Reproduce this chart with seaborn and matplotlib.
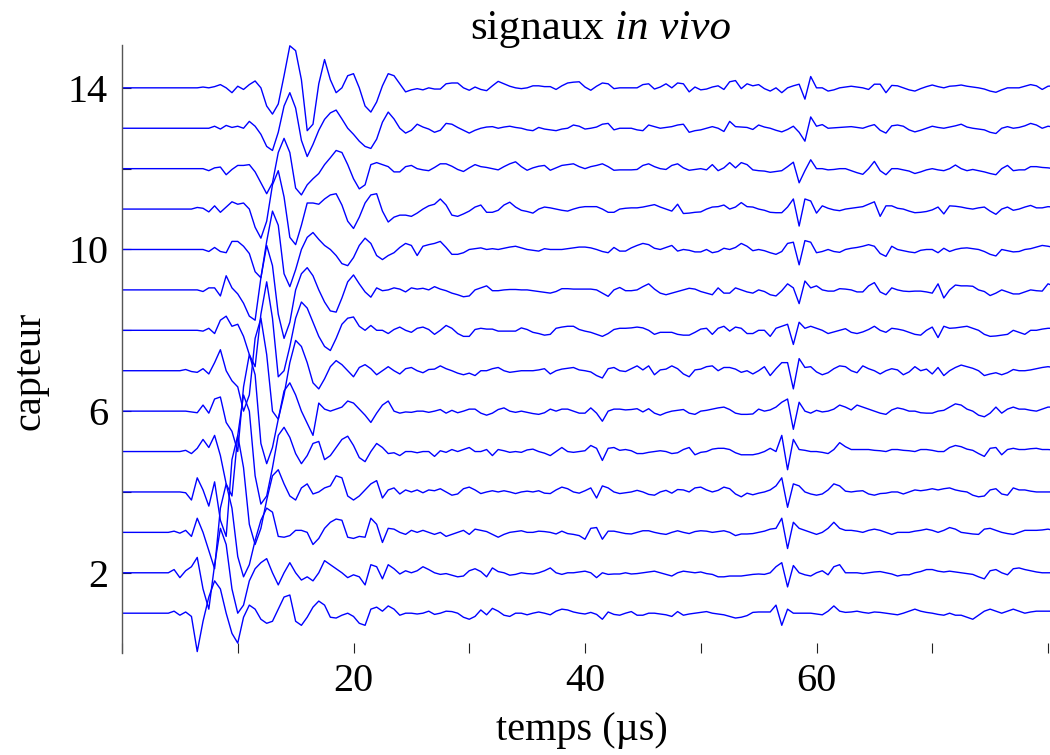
import numpy as np
import pandas as pd
import seaborn as sns
import matplotlib
matplotlib.use('Agg')
import matplotlib.pyplot as plt

# pas d'echantillonnage des signaux (µs)
dt = 0.5

# amplitudes, en centiemes de l'ecart entre capteurs
# un echantillon toutes les 0.5 µs, de 0 a 80.5 µs (10 valeurs par ligne = 5 µs)
capteur_01 = [
    0, 0, 0, 0, 0, 0, 0, 0, 0, 5,
    -5, 3, -8, -95, -20, 40, 80, 60, 0, -50,
    -74, -10, 20, 10, -15, -25, -20, 10, 40, 45,
    -20, -30, -10, 15, 30, 20, -10, -12, -5, 0,
    -8, -25, -30, 10, 15, 5, 18, 10, -5, 0,
    0, -2, 0, 5, -3, 0, 5, 4, 0, -10,
    -15, -8, 8, -4, 12, 5, -5, -8, 0, 0,
    -4, 0, 3, 0, -4, 5, 10, 8, 3, 0,
    -2, 2, -3, -15, 3, -3, -5, 0, 4, -5,
    -5, 0, 0, -2, -4, -8, 4, -5, -2, 0,
    2, 4, 0, -2, -4, -8, -12, -10, -6, 2,
    3, 3, 3, 20, -30, 10, 0, 0, 0, 0,
    -2, -4, 5, 18, 5, 2, 3, 5, 2, 0,
    3, 2, 0, -2, -4, 0, 5, 10, 5, 2,
    0, -3, -5, 0, -5, -5, -10, -15, -5, 5,
    10, 5, 0, 5, 10, 5, 0, 3, 5, 5,
    5, 5]
capteur_02 = [
    0, 0, 0, 0, 0, 0, 0, 0, 0, 8,
    -12, 5, 15, 38, -40, -90, 20, 110, 70, -40,
    -100, -80, -20, 10, 25, 35, 0, -30, 0, 25,
    0, -18, -10, -20, 0, 30, 20, 10, 0, -12,
    -5, -10, -30, 20, 15, -15, 20, 10, -3, 5,
    0, 5, 15, 8, 0, -4, -2, -6, -10, -8,
    5, 10, 3, -10, 12, 3, 0, -6, -4, 0,
    -2, -3, 0, 5, 12, 0, -4, 0, 0, 2,
    4, 0, -12, 0, -4, -3, -3, 0, -3, -2,
    0, 2, 4, 0, -4, -8, 0, 4, 2, 0,
    2, -2, -4, -10, -10, -8, -8, -8, -6, -4,
    -3, -4, 0, 15, 25, -35, 18, 0, -5, -8,
    0, 5, -5, 15, 20, 0, 0, 0, -2, 0,
    2, 3, 0, -3, -8, -5, -5, 0, 3, 8,
    8, 4, 2, 4, 2, 0, -2, -4, -10, -15,
    5, 8, 0, -5, 10, 12, 8, 5, 2, 0,
    0, 0]
capteur_03 = [
    0, 0, 0, 0, 0, 0, 0, 0, 0, 3,
    -2, 5, -10, 35, 0, -45, -90, 60, 120, 60,
    -60, -110, -80, -20, 30, 60, 50, -10, -12, -8,
    5, 5, 0, -30, -15, 10, 25, 33, 30, -12,
    -15, -10, -12, 35, 20, -25, 10, 8, 0, -5,
    5, 0, 5, 0, -5, 0, -10, -5, 0, 5,
    -5, 8, 5, 2, -5, -12, -5, 0, 2, 4,
    0, 0, 3, 2, 0, -4, 3, -3, -5, -8,
    -17, 10, 12, -17, 3, 3, 0, -3, -4, 0,
    4, 4, 0, -3, -5, 0, 4, 0, -3, 2,
    4, 3, 0, 2, 4, 0, -8, -4, -4, -3,
    0, 3, 8, 10, 35, -40, 25, 10, 5, 0,
    -5, 0, 10, 25, 10, 5, 5, 3, 0, 5,
    8, 5, 0, -5, 0, 0, 0, 3, 5, 8,
    5, 0, 5, 12, 8, 0, -2, -4, -5, 8,
    10, 5, 0, -3, -5, 0, 5, 5, 5, 6,
    8, 5]
capteur_04 = [
    0, 0, 0, 0, 0, 0, 0, 0, 0, 0,
    0, -2, -20, 35, 5, -35, 25, -70, -110, 80,
    140, 60, -80, -130, -90, -20, 40, 55, 20, -10,
    -20, 10, 20, -5, 0, 10, 15, 40, 35, -10,
    -20, -10, 5, 20, 28, -15, 5, 10, -5, 5,
    0, 5, -2, 5, 3, 8, 0, -8, -5, 8,
    12, 5, -4, 0, 3, 0, 3, 0, -4, 0,
    2, 0, 3, -3, -4, 5, 12, 8, 0, -3,
    3, 10, -15, 15, 10, 0, -4, -2, 0, 4,
    0, -6, -8, 0, 4, -3, 6, 5, 0, 10,
    12, 5, 0, 4, 12, 8, -5, -12, -3, -7,
    -3, 0, 5, 15, 35, -38, 20, 15, 0, -5,
    -8, -5, 5, 20, 15, 2, 0, 2, 3, -5,
    -8, -4, -3, 0, 0, -5, 0, 5, 3, 5,
    8, 5, 8, 10, 5, 2, 0, -8, -12, -10,
    5, 8, -5, -8, 10, 5, 5, 2, 0, 0,
    0, 0]
capteur_05 = [
    0, 0, 0, 0, 0, 0, 0, 0, 0, 0,
    0, 3, -5, 8, 30, 10, 40, -10, -80, -110,
    40, 140, 100, -60, -130, -110, -40, 40, 60, 35,
    -5, -30, -10, 20, 25, -20, -10, 10, 30, 38,
    15, -15, -25, 0, 20, 10, -5, -3, -10, 0,
    0, -3, 0, 0, -12, 2, -2, 5, 0, 5,
    10, 0, 0, 5, -10, 5, 2, -2, 0, -2,
    4, 6, 0, -4, -10, 0, 10, 0, -2, 0,
    2, 15, 8, -22, 8, 10, 3, 5, 2, -5,
    -5, -2, 0, 2, 0, -5, -3, 5, 10, -8,
    -2, 0, 6, 8, 8, 5, -3, -8, -8, -8,
    -5, 0, 8, 0, 40, -45, 30, 5, 3, 0,
    0, -2, -5, 5, 22, 12, 5, 5, 5, 5,
    3, 2, 0, 5, 5, 3, 2, 0, 5, 5,
    3, 0, 0, 10, 15, 12, 6, 3, -5, -12,
    8, 10, -8, 5, 8, 5, 5, 7, 8, 5,
    5, 4]
capteur_06 = [
    0, 0, 0, 0, 0, 0, 0, 0, 0, 0,
    0, 0, -2, -4, 15, -5, 30, 35, -28, -50,
    -100, 60, 140, 90, -80, -130, -90, -20, 50, 70,
    40, 0, -30, -60, 20, 5, 0, 5, 10, 25,
    20, 5, -10, -28, -5, 15, 25, 0, -5, -2,
    -3, 0, 0, -3, 0, 4, -5, 2, -4, 0,
    5, 5, -5, -10, -5, 4, 8, 0, -3, 0,
    -3, -6, -8, -4, 5, 0, 5, 5, 0, -5,
    -5, 8, -5, -25, 0, 5, 5, 3, 4, 6,
    -2, 6, -5, -10, -4, 0, 2, 4, -5, -8,
    0, 2, 5, 8, 10, 4, -5, -8, -8, -7,
    5, 0, 3, 10, 22, 30, -45, 22, 0, -5,
    2, -2, 0, 5, 15, 10, 3, 15, 10, 5,
    0, -5, -8, 3, 8, 5, 0, 0, -4, -5,
    -5, 0, 2, 10, 18, 15, 5, 0, -10, -14,
    -5, 10, -5, 5, 10, 5, 5, 2, 0, 5,
    10, 10]
capteur_07 = [
    0, 0, 0, 0, 0, 0, 0, 0, 0, 0,
    0, 3, -2, -4, 5, -8, 20, 52, 0, -25,
    -40, -100, -60, 80, 130, 40, -100, -120, -60, 20,
    75, 60, 20, -30, -45, -20, 10, 25, 15, 0,
    -15, 8, 15, 5, -10, 0, 10, 0, -8, 5,
    8, 0, -5, 3, 4, 12, 5, 0, -6, -10,
    -6, -12, 0, 0, 5, 8, 0, -4, -2, 0,
    0, 0, 2, 5, -8, 0, 4, 6, 8, 2,
    0, -3, -12, -18, 5, 8, 0, -2, 5, 12,
    2, 12, -10, 2, 4, 12, 5, -8, -15, 2,
    4, 10, 12, 0, 8, 8, 4, -4, 0, -8,
    0, 10, -12, 5, 20, 20, -45, 30, 8, 10,
    -3, -10, -5, 5, 12, 10, 0, -5, 12, 5,
    0, -8, 0, 5, 2, -10, -3, 10, 0, 4,
    -8, 8, -12, 0, 8, 14, 10, 6, 0, -12,
    -8, -5, -10, -5, 3, 0, 0, 2, 5, 8,
    10, 8]
capteur_08 = [
    0, 0, 0, 0, 0, 0, 0, 0, 0, 0,
    0, 0, 0, 0, -2, 5, -8, 25, 35, 10,
    15, -15, -60, -90, 40, 120, 30, -115, -100, -40,
    30, 70, 55, 20, -15, -40, -50, -20, 15, 30,
    33, 10, 0, 12, 0, 0, -8, 2, 8, 0,
    -5, 5, 8, 2, -10, 0, 12, 5, -8, -15,
    -15, 2, 5, 3, 3, -2, -2, -2, -2, 6,
    2, -5, -8, -12, -10, 5, 8, 10, 10, 2,
    -2, -5, -10, -15, -8, 2, 5, 5, 6, 8,
    6, 0, -10, -5, -5, -5, -10, -12, -12, -5,
    3, 5, -10, 5, 10, -2, 8, 5, -8, -8,
    0, 0, -15, 5, 10, 15, -35, 20, 5, 10,
    5, 0, -8, -4, 0, 4, -5, -8, -4, 2,
    10, 0, -5, 5, 3, 0, -5, -10, -12, 0,
    8, -18, 10, 5, 6, 8, 10, 5, 0, -10,
    -15, -14, -12, -10, 0, -5, -10, 0, 0, 3,
    5, 5]
capteur_09 = [
    0, 0, 0, 0, 0, 0, 0, 0, 0, 0,
    0, 0, 0, 0, -4, 5, 5, -15, 35, 5,
    -10, -33, -65, -75, 30, 110, 60, -60, -120, -80,
    0, 40, 55, 35, 0, -30, -52, -55, -20, 20,
    37, 15, -5, -18, 5, -2, 0, 5, 2, -5,
    5, 2, 4, 0, 8, 2, -2, -8, -12, -17,
    -15, 0, 5, 10, -2, -2, 0, 1, 1, 0,
    0, -2, -4, -6, -8, -4, 3, 3, 2, 2,
    2, 2, 0, -8, -16, 0, 6, -2, -2, 0,
    8, 15, 2, -8, -12, -8, -4, 0, 4, 2,
    -4, -8, -12, 5, -8, -8, 5, 0, -5, -8,
    0, -4, -12, -15, -2, 15, 5, -34, 22, 5,
    10, 0, -3, -3, 3, 2, 0, -5, -5, 10,
    18, -5, -12, 5, 0, -3, -4, -3, -3, -5,
    -8, 15, -20, 0, 12, 10, 10, 9, 0, -4,
    -14, -8, 0, -5, -10, -10, -5, 0, -2, -3,
    15, 10]
capteur_10 = [
    0, 0, 0, 0, 0, 0, 0, 0, 0, 0,
    0, 0, 0, 0, 0, -5, 5, -5, -8, 20,
    20, 8, -10, -55, -70, 20, 95, 60, -60, -92,
    -50, 0, 30, 42, 25, 10, 0, -15, -35, -40,
    -20, 10, 28, 15, -15, -25, -15, -8, 5, 15,
    10, -15, 8, 12, 15, 20, 5, -12, -12, -8,
    0, 2, 4, 0, 2, 0, 3, 6, 8, 4,
    0, -2, -4, 2, 0, 0, 0, 2, 4, 6,
    6, 4, 0, -5, -8, 5, -4, -4, 4, 10,
    15, 12, 3, 0, 5, 10, -4, 0, -2, -6,
    -6, 0, -8, -5, 3, 0, 5, 15, 8, -3,
    0, -3, -8, -12, -5, 15, 18, -38, 22, 18,
    -8, -5, 0, -5, -7, 0, 3, 5, 8, 12,
    8, -10, -17, 8, 0, -3, -6, -8, -2, 0,
    0, -8, 3, -5, 0, 3, 4, 2, 0, -5,
    -12, -16, 0, -3, -6, -5, 0, 2, 6, 10,
    8, 5]
capteur_11 = [
    0, 0, 0, 0, 0, 0, 0, 0, 0, 0,
    0, 0, 0, 4, 2, -7, 8, -8, 5, 18,
    12, 15, 0, -45, -72, -30, 60, 95, 30, -70,
    -88, -40, 15, 15, 12, 25, 35, 38, 10, -30,
    -48, -20, 15, 35, 38, -5, -32, -20, -15, -15,
    -18, -10, 0, 8, 12, 25, 10, -15, -18, -12,
    -5, 5, 10, -8, -8, -3, 10, 17, 5, -3,
    -6, -10, 0, 5, 3, 0, -3, -5, 0, 4,
    6, 6, 6, 0, -8, -8, 0, 2, 3, 3,
    5, 8, 11, 5, 0, -5, 12, -11, -10, -8,
    -7, 0, 5, 6, 10, 0, 5, 16, 6, 5,
    0, -3, -8, -9, -9, 5, 25, -42, 25, 20,
    -10, 8, 2, -2, -4, 0, 2, 4, 6, 12,
    18, -18, 8, 8, 2, 0, -5, -9, -8, -6,
    -2, 5, -12, 8, 7, 5, 2, 0, 3, 5,
    -5, -13, 0, 5, -3, 0, 5, 9, 3, 3,
    6, 5]
capteur_12 = [
    0, 0, 0, 0, 0, 0, 0, 0, 0, 0,
    0, 0, 0, 0, 0, -5, 2, 4, -15, -2,
    8, 8, 10, -8, -35, -62, -35, 40, 75, 40,
    -48, -65, -40, -25, -12, 10, 27, 45, 40, 10,
    -25, -50, -40, 10, 15, 10, 5, -8, -8, 5,
    8, 0, -3, -5, 3, 12, 12, 6, -2, -7,
    2, 10, 5, 3, 0, -3, 5, 12, 17, 5,
    -4, 2, 6, 8, -4, 2, 8, 10, 12, 5,
    0, 5, 8, 12, 5, -4, -3, -3, -3, -2,
    8, 12, 5, 0, -2, 8, 12, 2, -4, -2,
    0, -3, 10, -5, 2, 15, 2, 15, 10, -3,
    -5, -6, -9, -7, -5, 5, 16, -35, -5, 22,
    0, 0, -3, -2, 0, 0, -5, -10, -14, 0,
    18, -5, -15, 0, 0, -3, -6, -12, -8, -3,
    0, -3, -5, 0, 9, 0, -5, -2, -5, -8,
    -12, -15, 0, 8, -5, -3, -3, 5, 5, 3,
    2, 0]
capteur_13 = [
    0, 0, 0, 0, 0, 0, 0, 0, 0, 0,
    0, 0, 0, 0, 0, 0, 5, -2, 7, 2,
    5, 0, 17, 5, -15, -45, -55, -10, 55, 88,
    50, -30, -70, -40, -5, 22, 38, 45, 23, 0,
    -15, -32, -45, -50, -27, 15, 40, 23, 0, -12,
    -5, 10, 3, -2, -10, -5, 12, 10, 2, -5,
    -12, -5, 0, 3, 4, 0, 3, 5, 2, 0,
    -4, -6, 2, -2, -4, -6, -2, 0, 8, 5,
    -2, 0, 3, 10, 12, -4, 0, 0, 0, -4,
    -6, 8, 4, 0, 2, 4, 8, 10, -10, -6,
    -4, 0, 4, 0, -8, 17, 4, 3, 2, -3,
    8, 3, 0, -5, -9, -3, 5, -10, -32, 28,
    5, 9, 0, 1, 2, 3, 4, 2, 0, 5,
    9, -5, -12, 6, 8, 5, -4, -9, -5, 0,
    5, 2, 0, 3, 6, 10, 3, 0, -2, -4,
    -10, -13, 0, 4, 0, 2, 6, 12, 8, 0,
    5, 3]
capteur_14 = [
    0, 0, 0, 0, 0, 0, 0, 0, 0, 0,
    0, 0, 0, 0, 2, 0, 3, 8, 0, -12,
    4, -4, 8, 17, 0, -45, -65, -40, 30, 104,
    92, 20, -106, -90, 10, 70, 20, -12, 0, 30,
    35, 0, -45, -60, -35, 5, 35, 30, 10, -10,
    -5, -2, -5, 0, -3, -3, 10, 12, 12, 0,
    -6, 2, -4, -7, 5, 16, 10, 4, 0, -2,
    0, 5, 5, 3, 3, -4, 5, 12, 14, 15,
    2, -6, 4, 12, 10, -2, 0, 0, 0, 0,
    8, 10, -3, 2, 10, 0, 12, 10, -10, 2,
    -5, -3, 2, 5, -4, 15, 18, -2, 10, 5,
    8, -2, -8, 0, -12, 0, 5, 9, -28, 28,
    0, 0, -8, -5, 0, 2, 4, 2, 0, -4,
    9, 9, -12, 6, 5, 0, -5, -8, -2, 3,
    7, 3, 0, 4, 5, 7, 4, 2, 0, -3,
    -8, -11, -5, 0, 0, 0, 4, 8, 5, -4,
    4, 5]

signaux = [capteur_01, capteur_02, capteur_03, capteur_04, capteur_05,
           capteur_06, capteur_07, capteur_08, capteur_09, capteur_10,
           capteur_11, capteur_12, capteur_13, capteur_14]

x_ticks = [0, 10, 20, 30, 40, 50, 60, 70, 80]
x_tick_labels = ['', '', '20', '', '40', '', '60', '', '']
y_ticks = [2, 4, 6, 8, 10, 12, 14]
y_tick_labels = ['2', '', '6', '', '10', '', '14']

# un dataframe long : un signal par capteur, decale de son numero
frames = []
for num, sig in enumerate(signaux, start=1):
    amp = np.array(sig, dtype=float) / 100.0
    frames.append(pd.DataFrame({
        'temps': np.arange(len(amp)) * dt,
        'signal': num + amp,
        'capteur': num,
    }))
df = pd.concat(frames, ignore_index=True)

sns.set_style('white')
plt.rcParams['font.family'] = ['Liberation Serif', 'DejaVu Serif']
plt.rcParams['text.color'] = 'black'
plt.rcParams['xtick.color'] = 'black'
plt.rcParams['ytick.color'] = 'black'

W, H = 1050, 755
fig = plt.figure(figsize=(W / 100, H / 100), dpi=100)
ax = fig.add_axes([122 / W, 102 / H, 928 / W, 608 / H])

sns.lineplot(data=df, x='temps', y='signal', units='capteur', estimator=None,
             color='#0000ff', linewidth=1.0, sort=False, legend=False, ax=ax)

ax.set_xlim(0, 928 / 11.575)
ax.set_ylim(0.015, 15.06)
ax.set_xticks(x_ticks)
ax.set_xticklabels(x_tick_labels)
ax.set_yticks(y_ticks)
ax.set_yticklabels(y_tick_labels)
ax.set_xlabel('')
ax.set_ylabel('')

for side in ['top', 'right', 'bottom']:
    ax.spines[side].set_visible(False)
ax.spines['left'].set_color('#555555')
ax.spines['left'].set_linewidth(1.0)

ax.tick_params(axis='x', direction='in', length=7, width=0.8, color='#222222',
               labelcolor='black', labelsize=29, pad=7, bottom=True)
ax.tick_params(axis='y', direction='in', length=6.5, width=0.8, color='#222222',
               labelcolor='black', labelsize=29, pad=10, left=True)

fig.text(582 / W, 1 - 740 / H, 'temps (µs)', fontsize=29, color='black',
         ha='center', va='baseline')
fig.text(30 / W, 1 - 371 / H, 'capteur', fontsize=29, color='black',
         rotation=90, ha='center', va='center')

# titre : "signaux" droit + "in vivo" en italique
ty = 1 - 39 / H
tsize = 31
t1 = fig.text(0, ty, 'signaux', fontsize=tsize, color='black', va='baseline')
t2 = fig.text(0, ty, 'in vivo', fontsize=tsize, color='black', style='italic',
              va='baseline')
fig.canvas.draw()
r = fig.canvas.get_renderer()
w1 = t1.get_window_extent(r).width
w2 = t2.get_window_extent(r).width
gap = 0.25 * tsize * 100 / 72
x0 = 601 - (w1 + gap + w2) / 2
t1.set_position((x0 / W, ty))
t2.set_position(((x0 + w1 + gap) / W, ty))

fig.savefig('out.png', dpi=100)
